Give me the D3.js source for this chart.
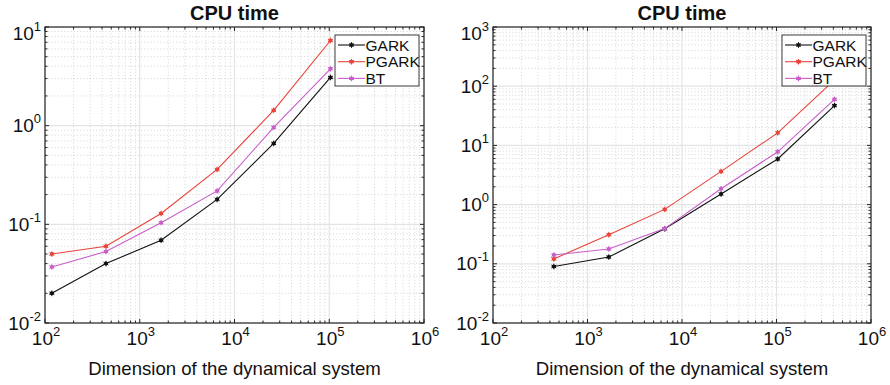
<!DOCTYPE html>
<html>
<head>
<meta charset="utf-8">
<script src="https://cdn.jsdelivr.net/npm/d3@7"></script>
<style>
  html, body { margin: 0; padding: 0; background: #fff; }
  svg { display: block; font-family: "Liberation Sans", Arial, Helvetica, sans-serif; }
</style>
</head>
<body>
<svg id="chart" width="890" height="385"></svg>
<script>
// Problem sizes (state dimension) for each experiment
const dimsSmall = [118, 440, 1680, 6560, 25920, 103040];
const dimsLarge = [440, 1680, 6560, 25920, 103040, 410880];

// CPU time in seconds, first experiment
const garkSmall  = [0.020, 0.040, 0.069, 0.179, 0.66, 3.08];
const pgarkSmall = [0.050, 0.060, 0.129, 0.36, 1.43, 7.3];
const btSmall    = [0.037, 0.053, 0.104, 0.218, 0.96, 3.77];

// CPU time in seconds, second experiment
const garkLarge  = [0.090, 0.13, 0.39, 1.51, 5.9, 47];
const pgarkLarge = [0.121, 0.31, 0.83, 3.64, 16.3, 128];
const btLarge    = [0.141, 0.178, 0.393, 1.85, 7.8, 60];

const methodNames = ["GARK", "PGARK", "BT"];
const methodColors = ["#111111", "#e8433b", "#c95ec9"];

const xTickExps = [2, 3, 4, 5, 6];
const yTickExpsSmall = [-2, -1, 0, 1];
const yTickExpsLarge = [-2, -1, 0, 1, 2, 3];

const titleText = "CPU time";
const xLabelText = "Dimension of the dynamical system";

const svg = d3.select("#chart");

function drawPanel(opts) {
  const { left, right, top, bottom, yExps, dims, series } = opts;
  const x = d3.scaleLog().domain([1e2, 1e6]).range([left, right]);
  const y = d3.scaleLog()
    .domain([Math.pow(10, yExps[0]), Math.pow(10, yExps[yExps.length - 1])])
    .range([bottom, top]);

  const g = svg.append("g");

  // minor and major tick positions
  const minorX = [], minorY = [];
  for (let e = 2; e < 6; e++) for (let k = 2; k <= 9; k++) minorX.push(k * Math.pow(10, e));
  for (let e = yExps[0]; e < yExps[yExps.length - 1]; e++)
    for (let k = 2; k <= 9; k++) minorY.push(k * Math.pow(10, e));
  const majorX = xTickExps.map(e => Math.pow(10, e));
  const majorY = yExps.map(e => Math.pow(10, e));

  // minor grid (dotted)
  const grid = g.append("g");
  grid.selectAll("line.mx").data(minorX).join("line")
    .attr("x1", d => x(d)).attr("x2", d => x(d)).attr("y1", top).attr("y2", bottom)
    .attr("stroke", "#cbcbcb").attr("stroke-width", 0.8).attr("stroke-dasharray", "1,2.2");
  grid.selectAll("line.my").data(minorY).join("line")
    .attr("y1", d => y(d)).attr("y2", d => y(d)).attr("x1", left).attr("x2", right)
    .attr("stroke", "#cbcbcb").attr("stroke-width", 0.8).attr("stroke-dasharray", "1,2.2");
  // major grid (solid, light)
  grid.selectAll("line.Mx").data(majorX).join("line")
    .attr("x1", d => x(d)).attr("x2", d => x(d)).attr("y1", top).attr("y2", bottom)
    .attr("stroke", "#e4e4e4").attr("stroke-width", 1.2);
  grid.selectAll("line.My").data(majorY).join("line")
    .attr("y1", d => y(d)).attr("y2", d => y(d)).attr("x1", left).attr("x2", right)
    .attr("stroke", "#e4e4e4").attr("stroke-width", 1.2);

  // series lines and markers
  const line = d3.line().x(d => x(d[0])).y(d => y(d[1]));
  const star = d3.symbol().type(d3.symbolAsterisk).size(22);
  series.forEach((vals, i) => {
    const pts = dims.map((d, j) => [d, vals[j]]);
    const sg = g.append("g");
    sg.append("path").datum(pts).attr("d", line)
      .attr("fill", "none").attr("stroke", methodColors[i]).attr("stroke-width", 1.1);
    sg.selectAll("circle").data(pts).join("circle")
      .attr("cx", d => x(d[0])).attr("cy", d => y(d[1])).attr("r", 2)
      .attr("fill", methodColors[i]);
    sg.selectAll("path.m").data(pts).join("path")
      .attr("transform", d => `translate(${x(d[0])},${y(d[1])})`)
      .attr("d", star).attr("stroke", methodColors[i]).attr("stroke-width", 1).attr("fill", "none");
  });

  // axes: ticks pointing inward on all four sides
  const axisColor = "#262626";
  const ticks = g.append("g").attr("stroke", axisColor);
  const tickSet = (vals, len, horiz) => vals.forEach(v => {
    if (horiz) {
      ticks.append("line").attr("x1", x(v)).attr("x2", x(v)).attr("y1", bottom).attr("y2", bottom - len);
      ticks.append("line").attr("x1", x(v)).attr("x2", x(v)).attr("y1", top).attr("y2", top + len);
    } else {
      ticks.append("line").attr("y1", y(v)).attr("y2", y(v)).attr("x1", left).attr("x2", left + len);
      ticks.append("line").attr("y1", y(v)).attr("y2", y(v)).attr("x1", right).attr("x2", right - len);
    }
  });
  tickSet(minorX, 2.5, true);
  tickSet(majorX, 4, true);
  tickSet(minorY, 2.5, false);
  tickSet(majorY, 4, false);

  g.append("rect").attr("x", left).attr("y", top).attr("width", right - left).attr("height", bottom - top)
    .attr("fill", "none").attr("stroke", axisColor).attr("stroke-width", 1.2);

  // tick labels as 10^e with superscript
  const xl = g.append("g").attr("fill", "#111");
  xTickExps.forEach(e => {
    const t = xl.append("text").attr("x", x(Math.pow(10, e)) + 1).attr("y", bottom + 22)
      .attr("text-anchor", "middle").attr("font-size", 19);
    t.append("tspan").text("10");
    t.append("tspan").attr("font-size", 13).attr("dy", -9).text(e);
  });
  const yl = g.append("g").attr("fill", "#111");
  yExps.forEach(e => {
    // keep the topmost label from running into the page edge
    const yy = Math.max(y(Math.pow(10, e)), top + 6);
    const t = yl.append("text").attr("x", left - 4).attr("y", yy + 6.5)
      .attr("text-anchor", "end").attr("font-size", 19);
    t.append("tspan").text("10");
    t.append("tspan").attr("font-size", 13).attr("dy", -9).text(e);
  });

  // title and axis label
  g.append("text").attr("x", (left + right) / 2).attr("y", 19.5).attr("text-anchor", "middle")
    .attr("font-size", 20).attr("font-weight", "bold").attr("fill", "#111").text(titleText);
  g.append("text").attr("x", (left + right) / 2).attr("y", 375).attr("text-anchor", "middle")
    .attr("font-size", 18.6).attr("fill", "#111").text(xLabelText);

  // legend in the upper right corner
  const lw = 84, lh = 51;
  const lx = right - 5 - lw, ly = top + 8;
  const lg = g.append("g");
  lg.append("rect").attr("x", lx).attr("y", ly).attr("width", lw).attr("height", lh)
    .attr("fill", "#fff").attr("stroke", axisColor).attr("stroke-width", 0.9);
  methodNames.forEach((name, i) => {
    const cy = ly + 10 + i * 16.7;
    lg.append("line").attr("x1", lx + 3).attr("x2", lx + 30).attr("y1", cy).attr("y2", cy)
      .attr("stroke", methodColors[i]).attr("stroke-width", 1.1);
    lg.append("circle").attr("cx", lx + 16.5).attr("cy", cy).attr("r", 2).attr("fill", methodColors[i]);
    lg.append("path").attr("transform", `translate(${lx + 16.5},${cy})`).attr("d", star)
      .attr("stroke", methodColors[i]).attr("stroke-width", 1).attr("fill", "none");
    lg.append("text").attr("x", lx + 30.5).attr("y", cy + 5.5).attr("font-size", 15.5)
      .attr("fill", "#111").text(name);
  });
}

drawPanel({ left: 45, right: 424, top: 27, bottom: 323, yExps: yTickExpsSmall,
  dims: dimsSmall, series: [garkSmall, pgarkSmall, btSmall] });
drawPanel({ left: 493, right: 871, top: 27, bottom: 323, yExps: yTickExpsLarge,
  dims: dimsLarge, series: [garkLarge, pgarkLarge, btLarge] });
</script>
</body>
</html>
